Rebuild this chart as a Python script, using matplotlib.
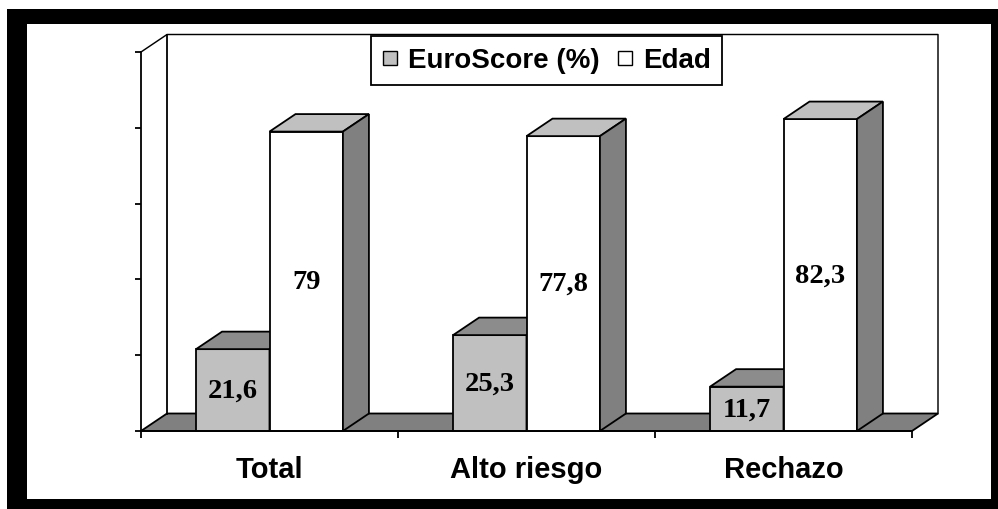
import matplotlib.pyplot as plt
from matplotlib.patches import Polygon, Rectangle
from matplotlib.lines import Line2D

# data
categorias = ['Total', 'Alto riesgo', 'Rechazo']
euroscore = [21.6, 25.3, 11.7]
edad = [79, 77.8, 82.3]
series = ['EuroScore (%)', 'Edad']

# colores (front, top, side)
col_euro = ('#C0C0C0', '#8C8C8C', '#808080')
col_edad = ('#FFFFFF', '#C0C0C0', '#808080')

W, H = 998, 510
fig = plt.figure(figsize=(W / 100, H / 100), dpi=100)
fig.patch.set_facecolor('white')

# marco negro
fig.add_artist(Rectangle((7 / W, 0), 991 / W, 500 / H, transform=fig.transFigure,
                         facecolor='black', edgecolor='none', zorder=-3))
fig.add_artist(Rectangle((27 / W, 10 / H), 964 / W, 475 / H, transform=fig.transFigure,
                         facecolor='white', edgecolor='none', zorder=-2))

ax = fig.add_axes([141 / W, 78 / H, 771 / W, 379 / H])
ax.set_xlim(0, 3)
ax.set_ylim(0, 100)
ax.patch.set_alpha(0)

# profundidad del efecto 3D en unidades de datos
dx = 26 / 257
dy = 17.5 / 3.79
lw = 1.3

# suelo
ax.add_patch(Polygon([(0, 0), (3, 0), (3 + dx, dy), (dx, dy)], closed=True,
                     facecolor='#808080', edgecolor='black', lw=lw, clip_on=False, zorder=1))
# paredes
ax.plot([0, dx, 3 + dx, 3 + dx], [100, 100 + dy, 100 + dy, dy], color='black', lw=lw * 0.8,
        clip_on=False, zorder=1)
ax.plot([dx, dx], [dy, 100 + dy], color='black', lw=lw, clip_on=False, zorder=1)

bw = 1 / 3.5


def barra3d(x0, h, cols):
    front, top, side = cols
    ax.add_patch(Rectangle((x0, 0), bw, h, facecolor=front, edgecolor='black', lw=lw,
                           clip_on=False, zorder=3))
    ax.add_patch(Polygon([(x0, h), (x0 + bw, h), (x0 + bw + dx, h + dy), (x0 + dx, h + dy)],
                         closed=True, facecolor=top, edgecolor='black', lw=lw,
                         clip_on=False, zorder=3))
    ax.add_patch(Polygon([(x0 + bw, 0), (x0 + bw + dx, dy), (x0 + bw + dx, h + dy), (x0 + bw, h)],
                         closed=True, facecolor=side, edgecolor='black', lw=lw,
                         clip_on=False, zorder=3))
    lab = f'{h:g}'.replace('.', ',')
    ax.text(x0 + bw / 2, h / 2, lab, ha='center', va='center', fontsize=20.5,
            fontweight='bold', family='Liberation Serif', zorder=4)


for i in range(len(categorias)):
    c = i + 0.5
    barra3d(c - bw, euroscore[i], col_euro)
    barra3d(c, edad[i], col_edad)

# ejes
for s in ['top', 'right']:
    ax.spines[s].set_visible(False)
for s in ['left', 'bottom']:
    ax.spines[s].set_linewidth(lw)
    ax.spines[s].set_zorder(5)

ax.set_yticks(range(0, 101, 20))
ax.tick_params(axis='y', length=4, width=lw, labelleft=False)
ax.set_xticks([0.5, 1.5, 2.5])
ax.set_xticklabels(categorias, fontsize=21, fontweight='bold', family='Liberation Sans')
ax.set_xticks([0, 1, 2, 3], minor=True)
ax.tick_params(axis='x', which='major', length=0, pad=17)
ax.tick_params(axis='x', which='minor', length=5, width=lw)

handles = [Line2D([], [], ls='none', marker='s', markersize=10, markerfacecolor=col_euro[0],
                  markeredgecolor='black', markeredgewidth=1),
           Line2D([], [], ls='none', marker='s', markersize=10, markerfacecolor=col_edad[0],
                  markeredgecolor='black', markeredgewidth=1)]
leg = fig.legend(handles, series, loc='center', bbox_to_anchor=(546.5 / W, 1 - 61.5 / H),
                 ncol=2, frameon=True, fancybox=False, framealpha=1, edgecolor='black',
                 prop={'family': 'Liberation Sans', 'weight': 'bold', 'size': 20},
                 handlelength=0.6, handletextpad=0.35, columnspacing=0.6, borderpad=0.4,
                 borderaxespad=0)
leg.get_frame().set_linewidth(lw)
leg.set_zorder(10)

fig.savefig('out.png', dpi=100)
